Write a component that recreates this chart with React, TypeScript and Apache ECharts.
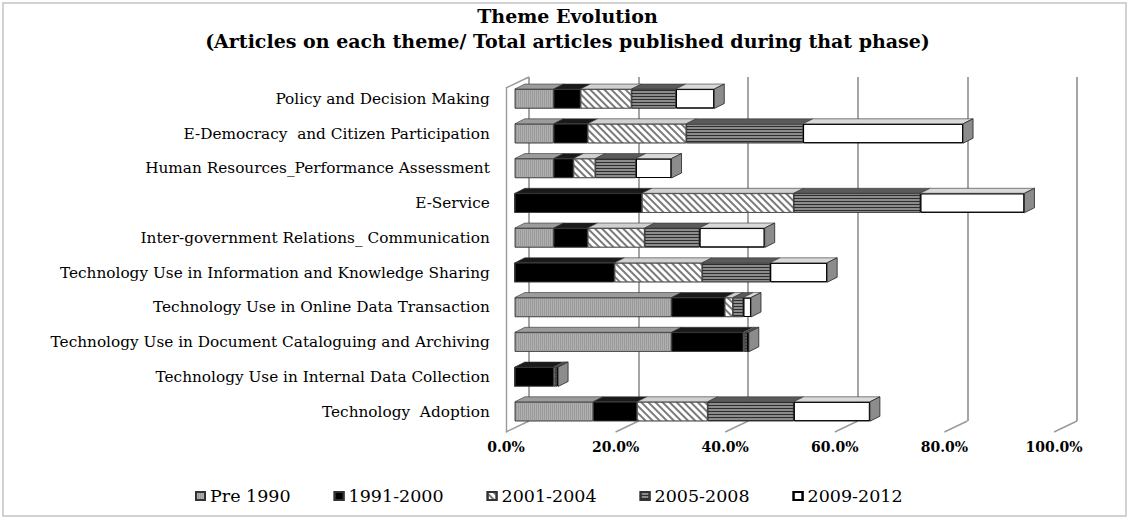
import React, { useEffect, useRef } from 'react';
import * as echarts from 'echarts';

const categories = [
  'Policy and Decision Making',
  'E-Democracy  and Citizen Participation',
  'Human Resources_Performance Assessment',
  'E-Service',
  'Inter-government Relations_ Communication',
  'Technology Use in Information and Knowledge Sharing',
  'Technology Use in Online Data Transaction',
  'Technology Use in Document Cataloguing and Archiving',
  'Technology Use in Internal Data Collection',
  'Technology  Adoption',
];

const seriesNames = ['Pre 1990', '1991-2000', '2001-2004', '2005-2008', '2009-2012'];

const pre1990 = [7.1, 7.1, 7.1, 0, 7.1, 0, 28.6, 28.6, 0, 14.3];
const p1991to2000 = [4.9, 6.2, 3.6, 23.2, 6.2, 18.2, 9.7, 13.1, 7.1, 8.0];
const p2001to2004 = [9.3, 18.0, 4.0, 27.7, 10.4, 16.0, 1.5, 0.3, 0.3, 12.9];
const p2005to2008 = [8.1, 21.3, 7.4, 23.1, 10.0, 12.4, 1.9, 0.4, 0.3, 15.7];
const p2009to2012 = [7.0, 29.2, 6.5, 19.0, 11.9, 10.4, 1.4, 0.3, 0.2, 13.9];

const allValues = [pre1990, p1991to2000, p2001to2004, p2005to2008, p2009to2012];

const xTicks = [0, 20, 40, 60, 80, 100];

const FONT = '"DejaVu Serif", "Liberation Serif", serif';

const frontColors = ['#b0b0b0', '#000000', '#ffffff', '#8c8c8c', '#ffffff'];
const topColors = ['#9c9c9c', '#1a1a1a', '#d0d0d0', '#5a5a5a', '#d9d9d9'];
const baseDecal = { symbolSize: 1, symbolKeepAspect: false, backgroundColor: 'none', rotation: 0 };
const decals: any[] = [
  { ...baseDecal, symbol: 'rect', dashArrayX: [1, 1], dashArrayY: [10, 0], color: '#9a9a9a' },
  { ...baseDecal, symbol: 'none' },
  { ...baseDecal, symbol: 'rect', dashArrayX: [10, 0], dashArrayY: [1.4, 2.4], rotation: Math.PI / 4, color: '#7a7a7a' },
  { ...baseDecal, symbol: 'rect', dashArrayX: [10, 0], dashArrayY: [1, 1.3], color: '#2e2e2e' },
  { ...baseDecal, symbol: 'none' },
];

const DX = 10;
const DY = -5;
const WALL_DX = 23;
const WALL_DY = -11;

export default function App() {
  const ref = useRef<HTMLDivElement>(null);

  useEffect(() => {
    if (!ref.current) return;
    const chart = echarts.init(ref.current, undefined, { renderer: 'svg' });

    const barSeries = seriesNames.map((name, k) => ({
      name,
      type: 'bar',
      stack: 'total',
      xAxisIndex: 2,
      yAxisIndex: 2,
      barWidth: '56%',
      data: allValues[k],
      itemStyle: {
        color: frontColors[k],
        borderColor: k === 4 ? '#000' : '#333',
        borderWidth: k === 4 ? 1 : 0.6,
        decal: decals[k],
      },
      emphasis: { disabled: true },
      z: 3,
    }));

    const option: any = {
      animation: false,
      backgroundColor: '#ffffff',
      aria: { enabled: true, decal: { show: true } },
      title: {
        text: 'Theme Evolution\n(Articles on each theme/ Total articles published during that phase)',
        left: 'center',
        top: 3.5,
        padding: 0,
        textStyle: {
          fontFamily: FONT,
          fontWeight: 'bold',
          fontSize: 19,
          lineHeight: 25,
          color: '#000',
        },
      },
      legend: {
        data: seriesNames,
        left: 190,
        top: 482,
        icon: 'rect',
        itemWidth: 9,
        itemHeight: 8,
        itemGap: 43,
        selectedMode: false,
        textStyle: { fontFamily: FONT, fontSize: 17.5, color: '#000' },
      },
      graphic: [
        {
          type: 'rect',
          shape: { x: 3, y: 3, width: 1123, height: 513 },
          style: { fill: 'none', stroke: '#c4c4c4', lineWidth: 1.5 },
          silent: true,
        },
      ],
      grid: [
        { left: 506, top: 88, width: 548, height: 344 },
        { left: 529, top: 77, width: 548, height: 344 },
        { left: 514.8, top: 81.4, width: 548, height: 347.5 },
      ],
      xAxis: [
        {
          gridIndex: 0,
          type: 'value',
          min: 0,
          max: 100,
          interval: 20,
          axisLine: { show: false },
          axisTick: { show: false },
          splitLine: { show: false },
          axisLabel: {
            margin: 8,
            formatter: (v: number) => v.toFixed(1) + '%',
            fontFamily: FONT,
            fontWeight: 'bold',
            fontSize: 14,
            color: '#000',
          },
        },
        {
          gridIndex: 1,
          type: 'value',
          min: 0,
          max: 100,
          interval: 20,
          axisLine: { show: false },
          axisTick: { show: false },
          axisLabel: { show: false },
          splitLine: { show: true, lineStyle: { color: '#8f8f8f', width: 1.6 } },
        },
        { gridIndex: 2, type: 'value', min: 0, max: 100, show: false },
      ],
      yAxis: [
        {
          gridIndex: 0,
          type: 'value',
          min: 0,
          max: 1,
          axisLine: { show: true, lineStyle: { color: '#9a9a9a', width: 1.4 } },
          axisTick: { show: false },
          axisLabel: { show: false },
          splitLine: { show: false },
        },
        { gridIndex: 1, type: 'value', min: 0, max: 1, show: false },
        {
          gridIndex: 2,
          type: 'category',
          inverse: true,
          data: categories,
          axisLine: { show: false },
          axisTick: { show: false },
          axisLabel: {
            interval: 0,
            margin: 25,
            padding: [8, 0, 0, 0],
            fontFamily: FONT,
            fontSize: 15.3,
            color: '#000',
          },
        },
      ],
      series: [
        {
          type: 'custom',
          xAxisIndex: 0,
          yAxisIndex: 0,
          silent: true,
          data: [...xTicks.map((t) => [t, 0]), [0, 1]],
          renderItem: (params: any, api: any) => {
            const p = api.coord([api.value(0), api.value(1)]);
            return {
              type: 'line',
              shape: { x1: p[0], y1: p[1], x2: p[0] + WALL_DX, y2: p[1] + WALL_DY },
              style: { stroke: '#9a9a9a', lineWidth: 1.4 },
            };
          },
          z: 1,
        },
        ...barSeries,
        {
          type: 'custom',
          xAxisIndex: 2,
          yAxisIndex: 2,
          silent: true,
          data: categories.map((_, i) => [0, i]),
          renderItem: (params: any, api: any) => {
            const i = params.dataIndex;
            const band = api.size([0, 1])[1];
            const th = band * 0.56;
            const c = api.coord([0, i]);
            const yTop = c[1] - th / 2;
            const yBot = c[1] + th / 2;
            const children: any[] = [];
            let cum = 0;
            allValues.forEach((arr, k) => {
              const v = arr[i];
              const x0 = api.coord([cum, i])[0];
              cum += v;
              const x1 = api.coord([cum, i])[0];
              if (v > 0) {
                children.push({
                  type: 'polygon',
                  shape: {
                    points: [
                      [x0, yTop],
                      [x1, yTop],
                      [x1 + DX, yTop + DY],
                      [x0 + DX, yTop + DY],
                    ],
                  },
                  style: { fill: topColors[k], stroke: '#333', lineWidth: 0.6 },
                });
              }
            });
            const xe = api.coord([cum, i])[0];
            children.push({
              type: 'polygon',
              shape: {
                points: [
                  [xe, yTop],
                  [xe + DX, yTop + DY],
                  [xe + DX, yBot + DY],
                  [xe, yBot],
                ],
              },
              style: { fill: '#8c8c8c', stroke: '#222', lineWidth: 0.8 },
            });
            return { type: 'group', children };
          },
          z: 4,
        },
      ],
    };

    chart.setOption(option);
    return () => chart.dispose();
  }, []);

  return (
    <div
      ref={ref}
      style={{ position: 'absolute', left: 0, top: 0, width: 1135, height: 522, background: '#fff' }}
    />
  );
}
